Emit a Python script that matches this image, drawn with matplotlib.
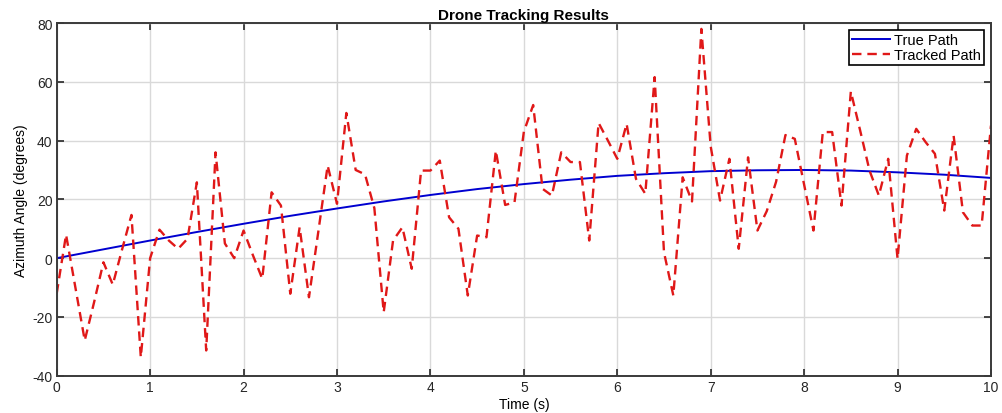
import numpy as np
import matplotlib
matplotlib.use('Agg')
import matplotlib.pyplot as plt

# time axis (s), 0.1 s step for the tracked samples
time_tracked = np.round(np.arange(0, 10.01, 0.1), 1)

# tracked azimuth (degrees)
tracked = [-12, 8, -10, -28, -15, -1.4, -9, 3, 14.7, -33.7,
           0, 9.7, 6, 3.2, 6.6, 25.8, -31.4, 36, 5, 0,
           9.4, 1, -7, 22.4, 17.9, -12.1, 10.5, -13.3, 9, 31.5,
           18.5, 49.4, 30, 28.5, 17, -18.4, 6, 10.5, -3.6, 29.8,
           29.8, 33.2, 13.9, 10, -12.7, 7.7, 7.1, 36.6, 18.1, 19,
           43, 52.1, 23.6, 21.3, 36, 32.7, 32.7, 6, 46, 40,
           33.8, 45.7, 27, 21.9, 61.6, 2, -12.7, 27.5, 19.3, 78,
           38, 19.6, 33.8, 3.2, 34.3, 9.4, 16, 26, 41.9, 40.6,
           25, 9.4, 42.9, 42.9, 17.9, 56.7, 43.4, 29.8, 21.3, 33.8,
           -0.2, 34.9, 44, 39.5, 35.5, 16.2, 41.7, 15.6, 11.1, 11.1,
           45.1]

# true azimuth (degrees), read every 0.5 s
time_true = np.arange(0, 10.01, 0.5)
true_path = [0, 3.0, 6.0, 8.9, 11.7, 14.4, 16.9, 19.3, 21.5, 23.5,
             25.2, 26.7, 28.0, 28.9, 29.6, 29.9, 30.0, 29.8, 29.2, 28.4,
             27.3]

plt.rcParams['font.family'] = ['Liberation Sans', 'DejaVu Sans']
plt.rcParams['axes.unicode_minus'] = False

fig = plt.figure(figsize=(10.02, 4.14), dpi=100)
ax = fig.add_axes([0.0566, 0.090, 0.9324, 0.852])

ax.plot(time_true, true_path, color='#0000d0', linewidth=1.4, label='True Path')
ax.plot(time_tracked, tracked, color='#e01818', linewidth=1.7,
        linestyle=(0, (4, 2.5)), label='Tracked Path')

ax.set_xlim(0, 10)
ax.set_ylim(-40, 80)
ax.set_xticks(range(0, 11))
ax.set_yticks(range(-40, 81, 20))
ax.grid(True, color='#d9d9d9', linewidth=1.0)
ax.set_axisbelow(True)

ax.tick_params(direction='in', top=True, right=True, length=5, width=1.2,
               labelsize=10, colors='#262626', pad=3)
for s in ax.spines.values():
    s.set_color('#3a3a3a')
    s.set_linewidth(1.4)

ax.set_title('Drone Tracking Results', fontsize=11, fontweight='bold', pad=3)
ax.set_xlabel('Time (s)', fontsize=10, labelpad=2)
ax.set_ylabel('Azimuth Angle (degrees)', fontsize=10, labelpad=3)

leg = ax.legend(loc='upper right', fontsize=10.5, fancybox=False,
                framealpha=1, edgecolor='black', borderaxespad=0.5,
                handlelength=2.6, handletextpad=0.3, borderpad=0.2,
                labelspacing=0.05)
leg.get_frame().set_linewidth(1.2)

fig.savefig('out.png', dpi=100)
